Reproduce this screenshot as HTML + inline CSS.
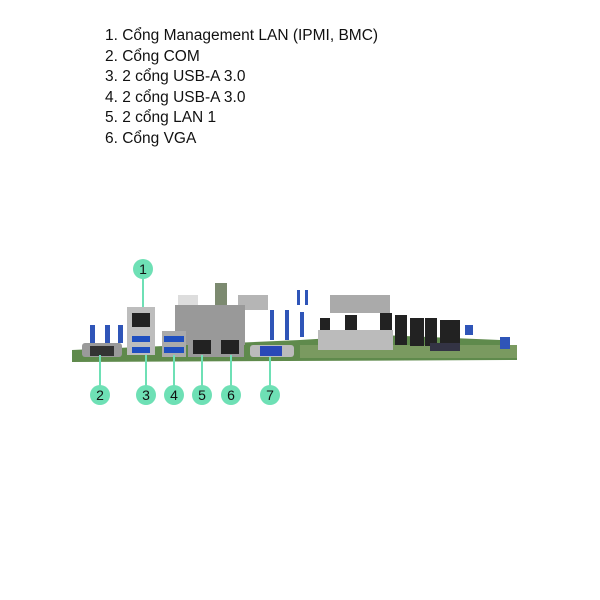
<!DOCTYPE html>
<html><head><meta charset="utf-8"><style>
body{margin:0;width:600px;height:600px;background:#fff;overflow:hidden;position:relative;font-family:"Liberation Sans",sans-serif}
.t{position:absolute;left:105px;top:26px;font-size:15.5px;line-height:20.6px;color:#111}
svg{position:absolute;left:0;top:0}
</style></head><body>
<div class="t">1. Cổng Management LAN (IPMI, BMC)<br>2. Cổng COM<br>3. 2 cổng USB-A 3.0<br>4. 2 cổng USB-A 3.0<br>5. 2 cổng LAN 1<br>6. Cổng VGA</div>
<svg width="600" height="600">
<!-- pcb -->
<polygon points="72,356 72,350 300,340 380,335 500,340 517,350 517,360 72,362" fill="#5f8a4c"/>
<polygon points="300,345 517,345 517,358 300,358" fill="#7a9a60"/>
<!-- background parts -->
<rect x="215" y="283" width="12" height="22" fill="#7c8a70"/>
<rect x="238" y="295" width="30" height="15" fill="#b5b5b5"/>
<rect x="178" y="295" width="20" height="10" fill="#ddd"/>
<rect x="335" y="297" width="50" height="12" fill="#aaa"/>
<rect x="330" y="295" width="60" height="18" fill="#aaa"/>
<rect x="175" y="305" width="70" height="40" fill="#999"/>
<g fill="#222"><rect x="320" y="318" width="10" height="30"/><rect x="345" y="315" width="12" height="32"/><rect x="380" y="313" width="12" height="32"/><rect x="395" y="315" width="12" height="30"/><rect x="410" y="318" width="14" height="28"/><rect x="425" y="318" width="12" height="28"/><rect x="440" y="320" width="20" height="25"/></g>
<rect x="318" y="330" width="75" height="20" fill="#bbb"/>
<rect x="430" y="343" width="30" height="8" fill="#334"/>
<g fill="#2f55b8"><rect x="90" y="325" width="5" height="18"/><rect x="105" y="325" width="5" height="18"/><rect x="118" y="325" width="5" height="18"/><rect x="270" y="310" width="4" height="30"/><rect x="285" y="310" width="4" height="30"/><rect x="300" y="312" width="4" height="25"/><rect x="297" y="290" width="3" height="15"/><rect x="305" y="290" width="3" height="15"/><rect x="465" y="325" width="8" height="10"/><rect x="500" y="337" width="10" height="12"/></g>
<!-- ports -->
<rect x="82" y="343" width="40" height="14" rx="3" fill="#9a9a9a"/><rect x="90" y="346" width="24" height="10" fill="#333"/>
<rect x="127" y="307" width="28" height="48" fill="#bdbdbd"/><rect x="132" y="313" width="18" height="14" fill="#222"/>
<rect x="132" y="336" width="18" height="6" fill="#1f4fc0"/><rect x="132" y="347" width="18" height="6" fill="#1f4fc0"/>
<rect x="162" y="331" width="24" height="26" fill="#aaa"/><rect x="164" y="336" width="20" height="6" fill="#1f4fc0"/><rect x="164" y="347" width="20" height="6" fill="#1f4fc0"/>
<rect x="188" y="335" width="28" height="22" fill="#999"/><rect x="193" y="340" width="18" height="14" fill="#222"/>
<rect x="216" y="335" width="28" height="22" fill="#999"/><rect x="221" y="340" width="18" height="14" fill="#222"/>
<rect x="250" y="345" width="44" height="12" rx="3" fill="#bbb"/><rect x="260" y="346" width="22" height="10" fill="#2a48b8"/>
<!-- connectors -->
<g stroke="#6ee0b5" stroke-width="2"><line x1="143" y1="269" x2="143" y2="307"/><line x1="100" y1="355" x2="100" y2="395"/><line x1="146" y1="355" x2="146" y2="395"/><line x1="174" y1="355" x2="174" y2="395"/><line x1="202" y1="355" x2="202" y2="395"/><line x1="231" y1="355" x2="231" y2="395"/><line x1="270" y1="357" x2="270" y2="395"/></g>
<g fill="#6ee0b5"><circle cx="143" cy="269" r="10"/><circle cx="100" cy="395" r="10"/><circle cx="146" cy="395" r="10"/><circle cx="174" cy="395" r="10"/><circle cx="202" cy="395" r="10"/><circle cx="231" cy="395" r="10"/><circle cx="270" cy="395" r="10"/></g>
<g font-family="Liberation Sans" font-size="14" text-anchor="middle" fill="#111"><text x="143" y="274">1</text><text x="100" y="400">2</text><text x="146" y="400">3</text><text x="174" y="400">4</text><text x="202" y="400">5</text><text x="231" y="400">6</text><text x="270" y="400">7</text></g>
</svg>
</body></html>
